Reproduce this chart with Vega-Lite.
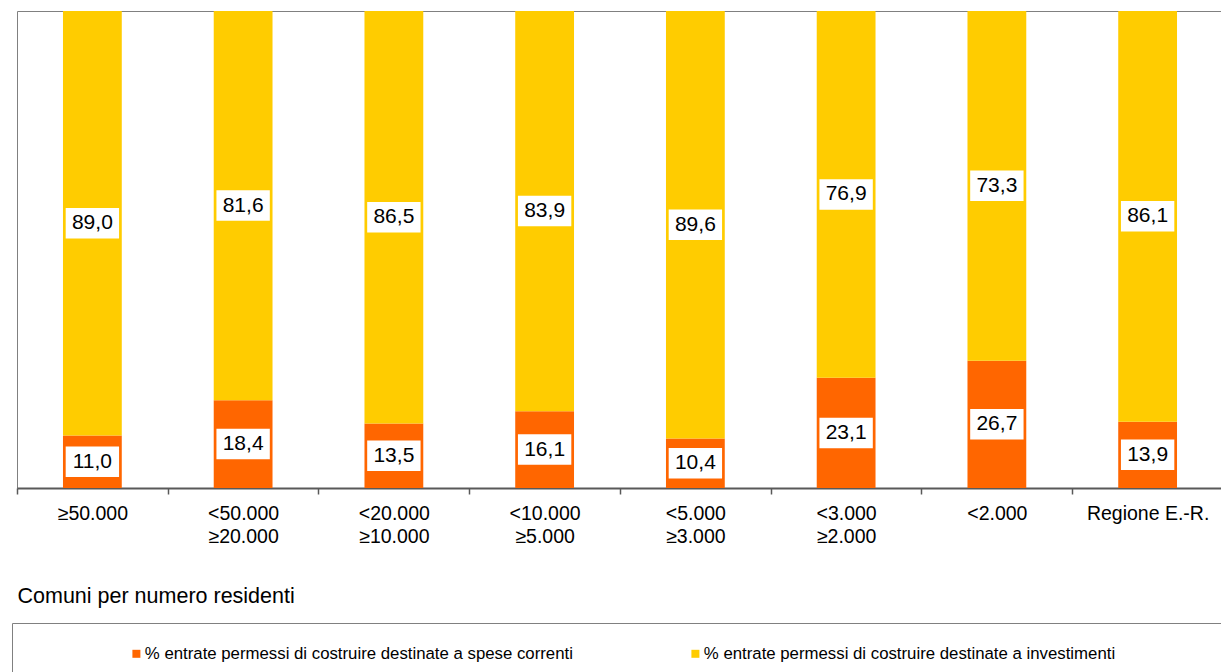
{
  "$schema": "https://vega.github.io/schema/vega-lite/v6.json",
  "width": 1206,
  "height": 477,
  "autosize": "none",
  "padding": {"left": 17, "top": 11, "right": 0, "bottom": 184},
  "config": {
    "locale": {"number": {"decimal": ",", "thousands": ".", "grouping": [3], "currency": ["", " €"]}},
    "view": {"stroke": "#808080", "strokeWidth": 1},
    "font": "Liberation Sans"
  },
  "data": {
    "values": [
      {"cat": "≥50.000", "serie": "% entrate permessi di costruire destinate a spese correnti", "v": 11.0},
      {"cat": "≥50.000", "serie": "% entrate permessi di costruire destinate a investimenti", "v": 89.0},
      {"cat": "<50.000|≥20.000", "serie": "% entrate permessi di costruire destinate a spese correnti", "v": 18.4},
      {"cat": "<50.000|≥20.000", "serie": "% entrate permessi di costruire destinate a investimenti", "v": 81.6},
      {"cat": "<20.000|≥10.000", "serie": "% entrate permessi di costruire destinate a spese correnti", "v": 13.5},
      {"cat": "<20.000|≥10.000", "serie": "% entrate permessi di costruire destinate a investimenti", "v": 86.5},
      {"cat": "<10.000|≥5.000", "serie": "% entrate permessi di costruire destinate a spese correnti", "v": 16.1},
      {"cat": "<10.000|≥5.000", "serie": "% entrate permessi di costruire destinate a investimenti", "v": 83.9},
      {"cat": "<5.000|≥3.000", "serie": "% entrate permessi di costruire destinate a spese correnti", "v": 10.4},
      {"cat": "<5.000|≥3.000", "serie": "% entrate permessi di costruire destinate a investimenti", "v": 89.6},
      {"cat": "<3.000|≥2.000", "serie": "% entrate permessi di costruire destinate a spese correnti", "v": 23.1},
      {"cat": "<3.000|≥2.000", "serie": "% entrate permessi di costruire destinate a investimenti", "v": 76.9},
      {"cat": "<2.000", "serie": "% entrate permessi di costruire destinate a spese correnti", "v": 26.7},
      {"cat": "<2.000", "serie": "% entrate permessi di costruire destinate a investimenti", "v": 73.3},
      {"cat": "Regione E.-R.", "serie": "% entrate permessi di costruire destinate a spese correnti", "v": 13.9},
      {"cat": "Regione E.-R.", "serie": "% entrate permessi di costruire destinate a investimenti", "v": 86.1}
    ]
  },
  "encoding": {
    "x": {
      "field": "cat",
      "type": "nominal",
      "sort": ["≥50.000", "<50.000|≥20.000", "<20.000|≥10.000", "<10.000|≥5.000", "<5.000|≥3.000", "<3.000|≥2.000", "<2.000", "Regione E.-R."],
      "scale": {"paddingInner": 0.61, "paddingOuter": 0.305},
      "axis": {
        "title": "Comuni per numero residenti",
        "titleFontSize": 21.5,
        "titleFontWeight": "normal",
        "titleColor": "black",
        "titleAnchor": "start",
        "titleAlign": "left",
        "titleBaseline": "alphabetic",
        "titleX": 0,
        "titleY": 114,
        "labelExpr": "split(datum.value, '|')",
        "labelAngle": 0,
        "labelFontSize": 19.5,
        "labelColor": "black",
        "labelLineHeight": 23,
        "labelPadding": 10,
        "labelLimit": 200,
        "labelOffset": 75.4,
        "domainColor": "#595959",
        "domainWidth": 2,
        "tickColor": "#595959",
        "tickSize": 6,
        "tickWidth": 1.5,
        "tickOffset": -75.4
      }
    }
  },
  "layer": [
    {
      "mark": {"type": "bar"},
      "encoding": {
        "y": {"field": "v", "type": "quantitative", "stack": "zero", "scale": {"domain": [0, 100], "nice": false}, "axis": null},
        "color": {
          "field": "serie",
          "type": "nominal",
          "scale": {
            "domain": ["% entrate permessi di costruire destinate a spese correnti", "% entrate permessi di costruire destinate a investimenti"],
            "range": ["#FF6600", "#FFCC00"]
          },
          "legend": {
            "orient": "none",
            "legendX": -5,
            "legendY": 612,
            "direction": "horizontal",
            "columns": 2,
            "title": " ",
            "titleOrient": "right",
            "titlePadding": 130,
            "strokeColor": "#808080",
            "padding": 22,
            "symbolType": "square",
            "symbolSize": 64,
            "symbolOffset": 94,
            "symbolStrokeWidth": 0,
            "labelFontSize": 16.8,
            "labelOffset": 0,
            "labelColor": "black",
            "labelLimit": 600,
            "columnPadding": 20
          }
        },
        "order": {"field": "serie", "sort": "descending"}
      }
    },
    {
      "transform": [
        {"stack": "v", "groupby": ["cat"], "sort": [{"field": "serie", "order": "descending"}], "as": ["s0", "s1"]},
        {"fold": ["s0", "s1"], "as": ["k", "pos"]}
      ],
      "mark": {"type": "point", "shape": "M-1.75,-1H1.75V1H-1.75Z", "size": 930, "filled": true, "color": "white", "opacity": 1, "strokeWidth": 0},
      "encoding": {
        "y": {"aggregate": "mean", "field": "pos", "type": "quantitative"},
        "detail": {"field": "serie"}
      }
    },
    {
      "transform": [
        {"stack": "v", "groupby": ["cat"], "sort": [{"field": "serie", "order": "descending"}], "as": ["s0", "s1"]},
        {"fold": ["s0", "s1"], "as": ["k", "pos"]}
      ],
      "mark": {"type": "text", "fontSize": 21, "color": "black", "baseline": "middle", "align": "center"},
      "encoding": {
        "y": {"aggregate": "mean", "field": "pos", "type": "quantitative"},
        "text": {"field": "v", "type": "quantitative", "format": ".1f"},
        "detail": {"field": "serie"}
      }
    }
  ]
}
